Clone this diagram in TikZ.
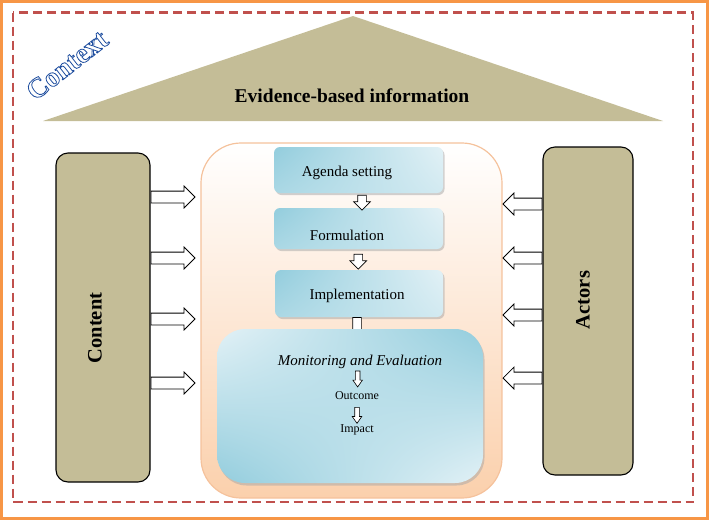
\documentclass[tikz,border=0pt]{standalone}
\usepackage{fontspec}
\setmainfont{Liberation Serif}
\usetikzlibrary{shapes.arrows, shadows, shadings, calc}
\definecolor{frameOrange}{HTML}{F79646}
\definecolor{dashRed}{HTML}{C0504D}
\definecolor{roofTan}{HTML}{C4BD97}
\definecolor{peach}{HTML}{FBD0AC}
\definecolor{peachLine}{HTML}{F5C29C}
\definecolor{stageDark}{HTML}{93CDDD}
\definecolor{stageLight}{HTML}{E2F1F6}
\definecolor{contextBlue}{HTML}{1F4E9F}
\tikzstyle{pillar} = [rectangle, rounded corners=12pt, draw=black, line width=1.1pt, fill=roofTan]
\tikzstyle{pillartext} = [rotate=90, font=\fontsize{20.5}{22}\selectfont\bfseries]
\tikzstyle{core} = [rectangle, rounded corners=40pt, draw=peachLine, line width=1.2pt, top color=white, bottom color=peach]
\tikzstyle{stage} = [rectangle, rounded corners=6pt, upper left=stageDark, lower left=stageDark!70!stageLight, upper right=stageLight, lower right=stageLight!80!stageDark, drop shadow={shadow xshift=1.5pt, shadow yshift=-2pt, fill=gray!70}]
\tikzstyle{evaluation} = [rectangle, rounded corners=28pt, upper left=stageLight, upper right=stageDark, lower left=stageDark, lower right=stageLight, drop shadow={shadow xshift=1.5pt, shadow yshift=-2.5pt, fill=gray!70}]
\tikzstyle{stagetext} = [font=\fontsize{15}{18}\selectfont]
\tikzstyle{smalltext} = [font=\fontsize{12}{14}\selectfont]
\tikzstyle{fatarrow} = [single arrow, draw=black, fill=white, line width=0.8pt, inner sep=5.5pt, single arrow head extend=5pt, single arrow head indent=0pt, anchor=tail]
\tikzstyle{steparrow} = [single arrow, draw=black, fill=white, line width=0.7pt, inner sep=4pt, minimum height=15pt, single arrow head extend=4pt, single arrow head indent=0pt, shape border rotate=270]
\tikzstyle{thinarrow} = [single arrow, draw=black, fill=white, line width=0.6pt, inner sep=2pt, minimum height=16pt, single arrow head extend=2.5pt, single arrow head indent=0pt, single arrow tip angle=70, shape border rotate=270]

\begin{document}
\begin{tikzpicture}[x=1pt, y=-1pt]
\useasboundingbox (0,0) rectangle (709,520);
% frames
\draw[frameOrange, line width=3pt] (1.5,1.5) rectangle (707.5,518.5);
\draw[dashRed, line width=2.6pt, dash pattern=on 9pt off 5pt] (13,12.5) rectangle (693,502);

% roof
\fill[roofTan] (43,121) -- (353,16) -- (663,121) -- cycle;
\node (evidence) at (352,96) {\fontsize{19.5}{21}\selectfont\bfseries Evidence-based information};
\node (context) [rotate=38, text=contextBlue] at (67,65) {\fontsize{28}{30}\selectfont\bfseries\special{pdf:literal direct 1 Tr 0.8 w}Context\special{pdf:literal direct 0 Tr}};

% side pillars
\node (content) [pillar, minimum width=94pt, minimum height=329pt] at (103,317.5) {};
\node (contentlbl) [pillartext] at (95,328) {Content};
\node (actors) [pillar, minimum width=90pt, minimum height=328pt] at (588,311) {};
\node (actorslbl) [pillartext] at (583,300) {Actors};

% policy cycle
\node (policy) [core, minimum width=301pt, minimum height=355pt] at (351.5,320.5) {};

\node (agenda) [stage, minimum width=169pt, minimum height=46pt] at (358.5,170) {};
\node (agendalbl) [stagetext] at (347,173) {Agenda setting};
\node (formulation) [stage, minimum width=169pt, minimum height=41pt] at (358.5,228.5) {};
\node (formulationlbl) [stagetext] at (347,235) {Formulation};
\node (implementation) [stage, minimum width=168pt, minimum height=47pt] at (359,293.5) {};
\node (implementationlbl) [stagetext] at (357,296) {Implementation};

\node (down1) [steparrow, xshift=3.5pt] at ($(agenda.south)!0.5!(formulation.north)$) {};
\node (down2) [steparrow, xshift=-0.5pt] at ($(formulation.south)!0.5!(implementation.north)$) {};
\node (down3) [steparrow, anchor=tail, minimum height=22pt, xshift=-2pt] at (implementation.south) {};

\node (monitoring) [evaluation, minimum width=266pt, minimum height=154pt] at (350,406) {};
\node (metitle) [font=\fontsize{15}{18}\selectfont\itshape] at (360,362) {Monitoring and Evaluation};
\node (outcome) [smalltext] at (357,396) {Outcome};
\node (impact) [smalltext] at (357,430) {Impact};
\node (m1) [thinarrow, xshift=-1pt] at ($(metitle)!0.45!(outcome)$) {};
\node (m2) [thinarrow] at ($(outcome)!0.52!(impact)$) {};

% influences
\node (in1) [fatarrow, minimum height=44pt] at (content.east |- 0,197) {};
\node (in2) [fatarrow, minimum height=44pt] at (content.east |- 0,258) {};
\node (in3) [fatarrow, minimum height=44pt] at (content.east |- 0,319) {};
\node (in4) [fatarrow, minimum height=44pt] at (content.east |- 0,383) {};
\node (ac1) [fatarrow, minimum height=39pt, shape border rotate=180] at (actors.west |- 0,204) {};
\node (ac2) [fatarrow, minimum height=39pt, shape border rotate=180] at (actors.west |- 0,258) {};
\node (ac3) [fatarrow, minimum height=39pt, shape border rotate=180] at (actors.west |- 0,315) {};
\node (ac4) [fatarrow, minimum height=39pt, shape border rotate=180] at (actors.west |- 0,378) {};
\end{tikzpicture}
\end{document}
